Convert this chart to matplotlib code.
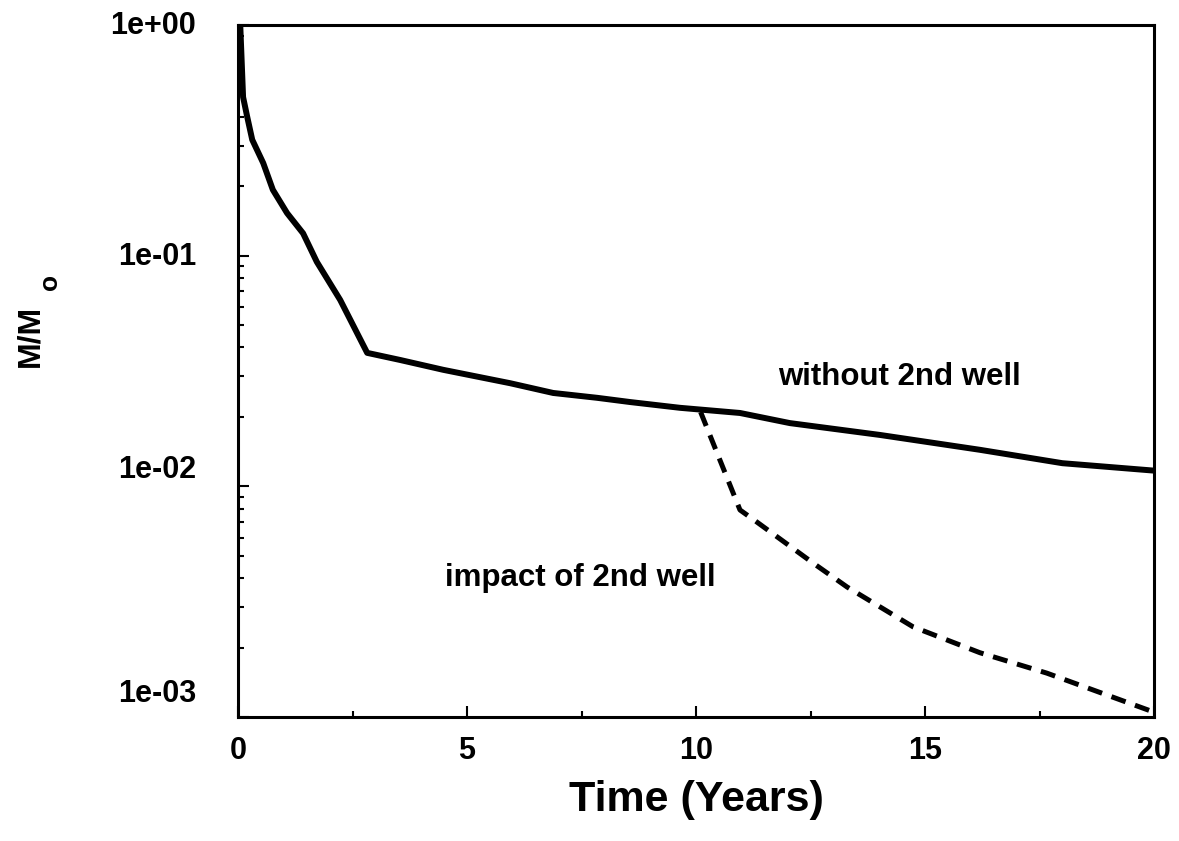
import matplotlib.pyplot as plt
import matplotlib.transforms as mtransforms
from matplotlib.ticker import MultipleLocator, LogLocator, FixedLocator

plt.rcParams['font.family'] = ['Liberation Sans', 'DejaVu Sans']
plt.rcParams['font.weight'] = 'bold'

# mass remaining without the second well
t_base = [0.05, 0.11, 0.2, 0.31, 0.55, 0.76, 1.07, 1.42, 1.72, 2.23, 2.82,
          3.54, 4.48, 5.94, 6.88, 7.84, 8.56, 9.65, 10.96, 12.05, 14.02,
          16.2, 18.0, 20.0]
m_base = [0.98, 0.487, 0.40, 0.318, 0.252, 0.193, 0.153, 0.125, 0.094, 0.0643,
          0.0379, 0.0353, 0.032, 0.028, 0.0254, 0.0242, 0.0232, 0.0219, 0.0208,
          0.0188, 0.0167, 0.0144, 0.0126, 0.0117]

# mass remaining with the second well switched on
t_well = [10.1, 10.96, 11.33, 12.55, 13.3, 14.74, 16.2, 17.66, 20.0]
m_well = [0.021, 0.0079, 0.0070, 0.00466, 0.00366, 0.00246, 0.0019, 0.00155, 0.00105]

y_ticks = [1e-3, 1e-2, 1e-1, 1]
y_labels = ['1e-03', '1e-02', '1e-01', '1e+00']

fig = plt.figure(figsize=(11.79, 8.41), dpi=100)
ax = fig.add_axes([0.2019, 0.1474, 0.7769, 0.8229])

ax.plot(t_base, m_base, color='black', lw=4.3, solid_joinstyle='round')
ax.plot(t_well, m_well, color='black', lw=3.6, dashes=(3, 2))

ax.set_yscale('log')
ax.set_xlim(0, 20)
ax.set_ylim(1e-3, 1)

ax.xaxis.set_major_locator(MultipleLocator(5))
ax.xaxis.set_minor_locator(MultipleLocator(2.5))
ax.yaxis.set_major_locator(FixedLocator(y_ticks))
ax.yaxis.set_minor_locator(LogLocator(base=10, subs=range(2, 10)))
ax.set_yticklabels(y_labels)

ax.tick_params(which='both', direction='in', top=False, right=False, width=1.5)
ax.tick_params(which='major', length=8, labelsize=22, pad=14)
ax.tick_params(which='minor', length=4)
ax.tick_params(axis='y', which='major', pad=30)
for s in ax.spines.values():
    s.set_linewidth(2.2)

# the original's y labels sit a little above their ticks
shifts = [19, 14, 1.5, 2]
for lab, dy in zip(ax.get_yticklabels(), shifts):
    off = mtransforms.ScaledTranslation(0, dy / 72, fig.dpi_scale_trans)
    lab.set_transform(lab.get_transform() + off)

ax.set_xlabel('Time (Years)', fontsize=31, fontweight='bold', labelpad=10)
fig.text(0.026, 0.60, 'M/M', rotation=90, fontsize=23, fontweight='bold',
         ha='center', va='center')
fig.text(0.042, 0.665, 'o', rotation=90, fontsize=19, fontweight='bold',
         ha='center', va='center')

ax.text(14.45, 0.0298, 'without 2nd well', fontsize=22.5, fontweight='bold',
        ha='center', va='center')
ax.text(7.47, 0.00401, 'impact of 2nd well', fontsize=22.5, fontweight='bold',
        ha='center', va='center')

fig.savefig('out.png', dpi=100)
